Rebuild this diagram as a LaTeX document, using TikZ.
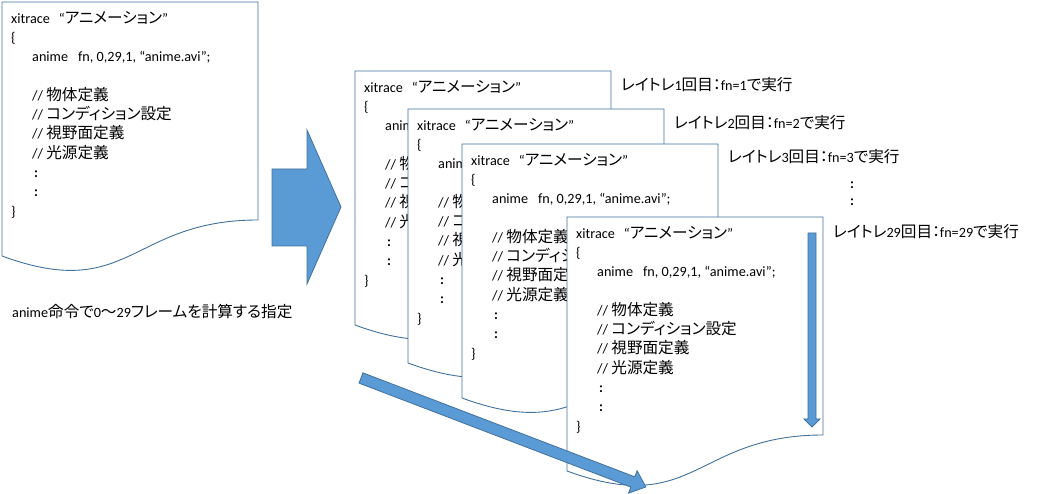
\documentclass[tikz,border=0pt]{standalone}
\usepackage{fontspec}
\setmainfont[Numbers=Lining]{Carlito}
\newfontfamily\jp[RawFeature=+palt, Scale=1.1]{Noto Sans CJK JP}
\usetikzlibrary{positioning}

\definecolor{sheetline}{RGB}{65,113,156}
\definecolor{arrowfill}{RGB}{91,155,213}

% the source listing printed on every sheet
\newcommand{\xicode}{%
xitrace\hspace{9pt}“{\jp アニメーション}”\\
\{\\
\hspace*{21pt}anime\hspace{10pt}fn, 0,29,1, “anime.avi”;\\[19.3pt]
\hspace*{21pt}// {\jp 物体定義}\\
\hspace*{21pt}// {\jp コンディション設定}\\
\hspace*{21pt}// {\jp 視野面定義}\\
\hspace*{21pt}// {\jp 光源定義}\\
\hspace*{23pt}\textbf{:}\\
\hspace*{23pt}\textbf{:}\\
\}}

\tikzset{
  sheet/.style={draw=sheetline, fill=white, line width=0.9pt},
  codetext/.style={anchor=north west, align=left, inner sep=0pt, font=\fontsize{14.2}{19.3}\selectfont},
  blockarrow/.style={draw=sheetline, fill=arrowfill, line width=0.8pt, line join=miter},
  runlabel/.style={anchor=west, inner sep=0pt, font=\fontsize{14.2}{17}\selectfont},
  docsheet/.pic={
    \draw[sheet] (0,0) -- (256,0) -- (256,218) .. controls (128,218) and (128,301) .. (0,254) -- cycle;
    \coordinate (-ne) at (256,0);
    \node[codetext] (-code) at (9,9) {\xicode};
  }
}

\begin{document}
\begin{tikzpicture}[x=1pt, y=-1pt]
\useasboundingbox (0,0) rectangle (1037,494);

\pic (d0) at (2,2) {docsheet};
\node[runlabel] (spec) at (12,312) {anime{\jp 命令で}0{\jp ～}29{\jp フレームを計算する指定}};

\draw[blockarrow] (272,169) -- (307,169) -- (307,130) -- (341,207) -- (307,284) -- (307,246) -- (272,246) -- cycle;

\pic (d1) at (355,71) {docsheet};
\pic (d2) at (408,109) {docsheet};
\pic (d3) at (462,144) {docsheet};
\pic (d4) at (567,217) {docsheet};

\draw[blockarrow] (808,233) -- (816,233) -- (816,419) -- (820,419) -- (812,427) -- (804,419) -- (808,419) -- cycle;

\begin{scope}[shift={(361,378)}, rotate=-20.93]
  \draw[blockarrow] (0,-5.5) -- (291,-5.5) -- (291,-12) -- (305,0) -- (291,12) -- (291,5.5) -- (0,5.5) -- cycle;
\end{scope}

\node[runlabel, right=10pt of d1-ne, yshift=-14pt] (run1) {{\jp レイトレ}1{\jp 回目：}fn=1{\jp で実行}};
\node[runlabel, right=10pt of d2-ne, yshift=-14pt] (run2) {{\jp レイトレ}2{\jp 回目：}fn=2{\jp で実行}};
\node[runlabel, right=10pt of d3-ne, yshift=-13pt] (run3) {{\jp レイトレ}3{\jp 回目：}fn=3{\jp で実行}};
\node[runlabel, align=center, anchor=center] (more) at (852,194) {\textbf{:}\\\textbf{:}};
\node[runlabel, right=10pt of d4-ne, yshift=-15pt] (run29) {{\jp レイトレ}29{\jp 回目：}fn=29{\jp で実行}};

\end{tikzpicture}
\end{document}
